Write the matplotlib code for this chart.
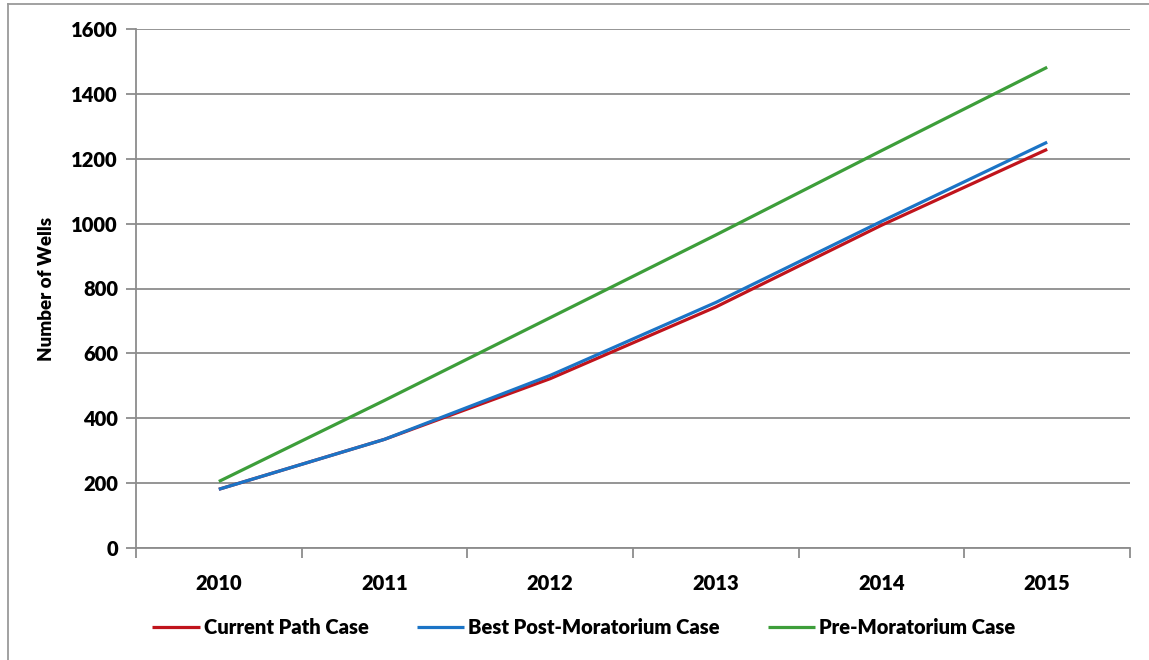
import matplotlib.pyplot as plt
from matplotlib.lines import Line2D

# Projected cumulative well counts per scenario
years = ["2010", "2011", "2012", "2013", "2014", "2015"]
current_path = [181, 335, 522, 743, 995, 1229]
best_post_moratorium = [181, 335, 532, 757, 1007, 1251]
pre_moratorium = [205, 455, 710, 965, 1225, 1482]

series_names = ["Current Path Case", "Best Post-Moratorium Case", "Pre-Moratorium Case"]
colors = ["#C0141C", "#1B74C6", "#3D9E3A"]

plt.rcParams['font.family'] = ['Lato', 'DejaVu Sans']
plt.rcParams['font.weight'] = 'heavy'

fig = plt.figure(figsize=(11.49, 6.6), dpi=100)
ax = fig.add_axes([136 / 1149, 1 - 548 / 660, (1130 - 136) / 1149, (548 - 29) / 660])

x = list(range(len(years)))
for vals, name, c in zip([current_path, best_post_moratorium, pre_moratorium], series_names, colors):
    ax.plot(x, vals, color=c, lw=2.3, label=name, solid_capstyle='butt')

grid_c = "#8c8c8c"
ax.set_ylim(0, 1600)
ax.set_yticks(range(0, 1601, 200))
ax.yaxis.grid(True, color=grid_c, lw=1.3)
ax.set_axisbelow(True)

ax.set_xlim(-0.5, len(years) - 0.5)
ax.set_xticks([i - 0.5 for i in range(len(years) + 1)])
ax.set_xticklabels([])
ax.set_xticks(x, minor=True)
ax.set_xticklabels(years, minor=True)
ax.tick_params(axis='x', which='minor', length=0, pad=19, labelsize=14.5)
ax.tick_params(axis='x', which='major', length=7, width=1.3, color=grid_c)
ax.tick_params(axis='y', length=7, width=1.3, color=grid_c, labelsize=14.5, pad=6)

for s in ['top', 'right']:
    ax.spines[s].set_visible(False)
for s in ['left', 'bottom']:
    ax.spines[s].set_color(grid_c)
    ax.spines[s].set_linewidth(1.3)

ax.set_ylabel("Number of Wells", fontsize=13.5, fontweight='heavy', labelpad=12)

fig.legend(loc='center', bbox_to_anchor=(584 / 1149, 1 - 628 / 660), ncol=3,
           frameon=False, fontsize=14.5, handlelength=2.35, handletextpad=0.2,
           columnspacing=2.4)

# thin frame around the chart area
fig.add_artist(Line2D([8 / 1149, 8 / 1149], [1 - 4 / 660, -0.01], color="#9a9a9a", lw=1.3,
                      transform=fig.transFigure))
fig.add_artist(Line2D([8 / 1149, 1.01], [1 - 4 / 660, 1 - 4 / 660], color="#9a9a9a", lw=1.3,
                      transform=fig.transFigure))

fig.savefig("out.png", dpi=100)
